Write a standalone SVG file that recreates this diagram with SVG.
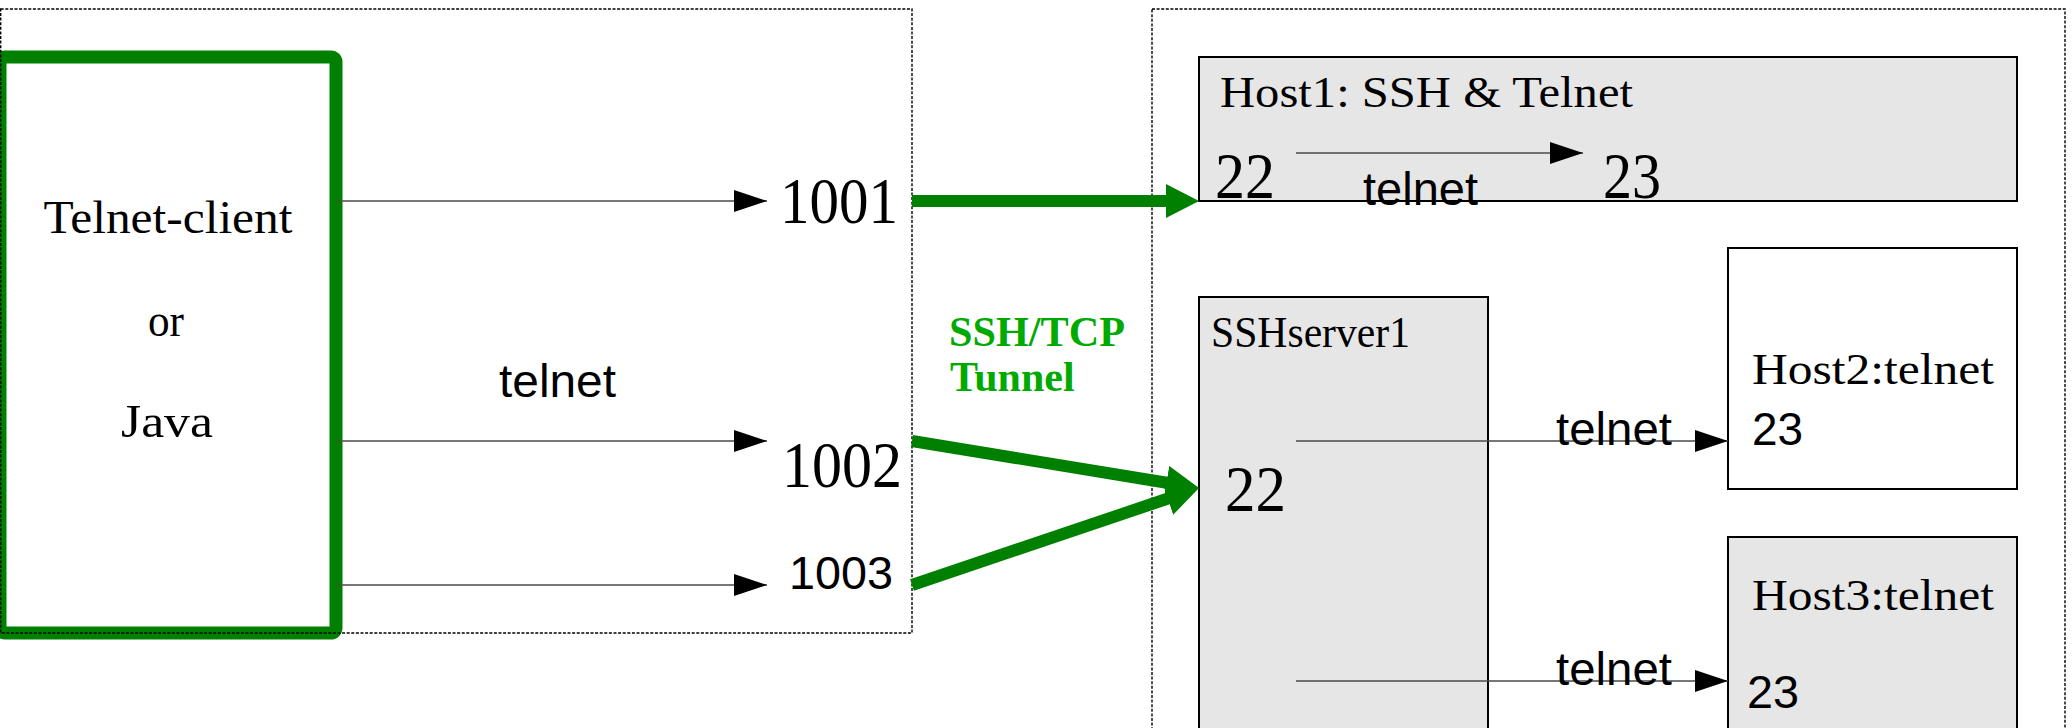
<svg xmlns="http://www.w3.org/2000/svg" width="2072" height="728" viewBox="0 0 2072 728">
  <style>
    .frame { fill: none; stroke: #000; stroke-width: 1.4; stroke-dasharray: 3 1.6; }
    .box { stroke: #000; stroke-width: 2; }
    .grey { fill: #e6e6e6; }
    .white { fill: #fff; }
    .client { fill: #fff; stroke: #008000; stroke-width: 13; }
    .serif { font-family: "Liberation Serif", "Times New Roman", serif; fill: #000; }
    .sans { font-family: "Liberation Sans", Arial, sans-serif; fill: #000; }
    .link { stroke: #4a4a4a; stroke-width: 1.4; fill: none; marker-end: url(#tip); }
    .tunnel { stroke: #008000; stroke-width: 12; fill: none; marker-end: url(#gtip); }
    .tunnel-label { font-family: "Liberation Serif", "Times New Roman", serif; font-weight: bold; font-size: 42px; fill: #00aa00; }
  </style>
  <defs>
    <marker id="tip" markerUnits="userSpaceOnUse" markerWidth="33" markerHeight="22" refX="33" refY="11" orient="auto">
      <path d="M0,0 L33,11 L0,22 z" fill="#000"/>
    </marker>
    <marker id="gtip" markerUnits="userSpaceOnUse" markerWidth="34" markerHeight="34" refX="5" refY="17" orient="auto">
      <path d="M0,0 L33,17 L0,34 z" fill="#008000"/>
    </marker>
  </defs>

  <!-- client node -->
  <g id="client">
    <rect class="client" x="0" y="57" width="336" height="576" rx="5"/>
    <text class="serif" x="168" y="233" font-size="46" text-anchor="middle" textLength="249" lengthAdjust="spacingAndGlyphs">Telnet-client</text>
    <text class="serif" x="166" y="336" font-size="46" text-anchor="middle" textLength="36" lengthAdjust="spacingAndGlyphs">or</text>
    <text class="serif" x="167" y="437" font-size="46" text-anchor="middle" textLength="92" lengthAdjust="spacingAndGlyphs">Java</text>
  </g>

  <!-- local side frame with forwarded ports -->
  <g id="local-frame">
    <rect class="frame" x="0.7" y="9" width="911.3" height="624"/>
  </g>
  <g id="port-1001">
    <text class="serif" x="780" y="223" font-size="65" textLength="118" lengthAdjust="spacingAndGlyphs">1001</text>
  </g>
  <g id="port-1002">
    <text class="serif" x="782" y="487" font-size="65" textLength="120" lengthAdjust="spacingAndGlyphs">1002</text>
  </g>
  <g id="port-1003">
    <text class="sans" x="789" y="589" font-size="46" textLength="104" lengthAdjust="spacingAndGlyphs">1003</text>
  </g>

  <!-- remote side frame -->
  <g id="remote-frame">
    <rect class="frame" x="1152" y="9" width="913" height="800"/>
  </g>

  <g id="host1">
    <rect class="box grey" x="1199" y="57" width="818" height="144"/>
    <text class="serif" x="1220" y="107" font-size="44" textLength="413" lengthAdjust="spacingAndGlyphs">Host1: SSH &amp; Telnet</text>
    <text class="serif" x="1215" y="198" font-size="65" textLength="60" lengthAdjust="spacingAndGlyphs">22</text>
    <text class="serif" x="1603" y="198" font-size="65" textLength="58" lengthAdjust="spacingAndGlyphs">23</text>
  </g>

  <g id="sshserver1">
    <rect class="box grey" x="1199" y="297" width="289" height="520"/>
    <text class="serif" x="1211" y="347" font-size="44" textLength="199" lengthAdjust="spacingAndGlyphs">SSHserver1</text>
    <text class="serif" x="1225" y="511" font-size="65" textLength="61" lengthAdjust="spacingAndGlyphs">22</text>
  </g>

  <g id="host2">
    <rect class="box white" x="1728" y="248" width="289" height="241"/>
    <text class="serif" x="1752" y="384" font-size="45" textLength="242" lengthAdjust="spacingAndGlyphs">Host2:telnet</text>
    <text class="sans" x="1752" y="445" font-size="46" textLength="51" lengthAdjust="spacingAndGlyphs">23</text>
  </g>

  <g id="host3">
    <rect class="box grey" x="1728" y="537" width="289" height="300"/>
    <text class="serif" x="1752" y="610" font-size="45" textLength="242" lengthAdjust="spacingAndGlyphs">Host3:telnet</text>
    <text class="sans" x="1747" y="708" font-size="46" textLength="52" lengthAdjust="spacingAndGlyphs">23</text>
  </g>

  <!-- connectors -->
  <g id="connectors">
    <line class="link" x1="337" y1="201" x2="767" y2="201"/>
    <line class="link" x1="337" y1="441" x2="767" y2="441"/>
    <line class="link" x1="337" y1="585" x2="767" y2="585"/>
    <line class="link" x1="1296" y1="153" x2="1583" y2="153"/>
    <line class="link" x1="1296" y1="441" x2="1728" y2="441"/>
    <line class="link" x1="1296" y1="681" x2="1728" y2="681"/>
    <line class="tunnel" x1="912" y1="201" x2="1171" y2="201"/>
    <line class="tunnel" x1="912" y1="441" x2="1171.4" y2="483.5"/>
    <line class="tunnel" x1="912" y1="585" x2="1172.5" y2="497"/>
  </g>

  <!-- connector labels -->
  <g id="labels">
    <text class="sans" x="499" y="397" font-size="47" textLength="117" lengthAdjust="spacingAndGlyphs">telnet</text>
    <text class="sans" x="1363" y="205" font-size="47" textLength="115" lengthAdjust="spacingAndGlyphs">telnet</text>
    <text class="sans" x="1556" y="445" font-size="47" textLength="116" lengthAdjust="spacingAndGlyphs">telnet</text>
    <text class="sans" x="1556" y="685" font-size="47" textLength="116" lengthAdjust="spacingAndGlyphs">telnet</text>
    <text class="tunnel-label" x="949" y="346" textLength="176" lengthAdjust="spacingAndGlyphs">SSH/TCP</text>
    <text class="tunnel-label" x="950" y="391">Tunnel</text>
  </g>
</svg>
